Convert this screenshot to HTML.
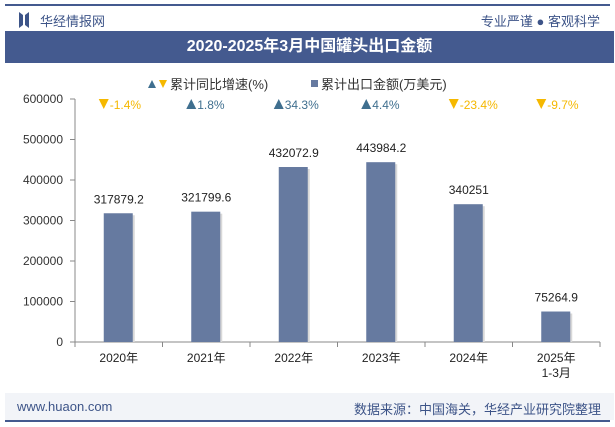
<!DOCTYPE html>
<html><head><meta charset="utf-8"><style>
body{margin:0;width:615px;height:427px;background:#fff;font-family:"Liberation Sans","Noto Sans CJK SC",sans-serif;overflow:hidden;position:relative}
.abs{position:absolute}
</style></head><body>
<div class="abs" style="left:5px;top:4px;width:605px;height:2px;background:#445a8f"></div>
<svg class="abs" style="left:19px;top:12px" width="10" height="16"><path d="M0 0L4 3L4 13L0 16Z M10 0L6 3L6 13L10 16Z" fill="#3d5488"/></svg>
<div class="abs" style="left:40px;top:11px;font-size:13px;color:#3d5488">华经情报网</div>
<div class="abs" style="right:15px;top:11px;font-size:13px;color:#3d5488">专业严谨 ● 客观科学</div>
<div class="abs" style="left:5px;top:31px;width:609px;height:32px;background:#445a8f;color:#fff;font-weight:bold;font-size:16px;text-align:center;line-height:32px">2020-2025年3月中国罐头出口金额</div>
<svg class="abs" style="left:0;top:0" width="615" height="427" id="chart"></svg>
<div class="abs" style="left:5px;top:393px;width:609px;height:27px;background:#f2f4f8"></div>
<div class="abs" style="left:17px;top:399px;font-size:13px;color:#3d5488">www.huaon.com</div>
<div class="abs" style="right:14px;top:399px;font-size:13px;color:#3d5488">数据来源：中国海关，华经产业研究院整理</div>
<div class="abs" style="left:5px;top:420px;width:605px;height:2px;background:#445a8f"></div>
<script>
const categories=["2020年","2021年","2022年","2023年","2024年","2025年|1-3月"];
const values=[317879.2,321799.6,432072.9,443984.2,340251,75264.9];
const valueLabels=["317879.2","321799.6","432072.9","443984.2","340251","75264.9"];
const growth=[-1.4,1.8,34.3,4.4,-23.4,-9.7];
const yTicks=[0,100000,200000,300000,400000,500000,600000];
const svg=document.getElementById('chart');const NS="http://www.w3.org/2000/svg";
const x0=75,x1=600,y0=342,y1=99,yMax=600000;
const bw=(x1-x0)/categories.length;
const ys=v=>y0-(v/yMax)*(y0-y1);
const xc=i=>x0+bw*(i+0.5);
function el(t,a,txt){const e=document.createElementNS(NS,t);for(const k in a)e.setAttribute(k,a[k]);if(txt!=null)e.textContent=txt;svg.appendChild(e);return e;}
let e;
e=el('line',{x1:x0,y1:y1,x2:x0,y2:y0,stroke:'#888'});
e=el('line',{x1:x0,y1:y0,x2:x1,y2:y0,stroke:'#888'});
yTicks.forEach(v=>{const y=ys(v);
 el('line',{x1:x0-5,y1:y,x2:x0,y2:y,stroke:'#888'});
 e=el('text',{x:x0-12,y:y+4,'text-anchor':'end','font-size':12,fill:'#333'},String(v));});
for(let i=0;i<=categories.length;i++)el('line',{x1:x0+bw*i,y1:y0,x2:x0+bw*i,y2:y0+5,stroke:'#888'});
categories.forEach((c,i)=>{
 const cx=xc(i),y=ys(values[i]);
 el('rect',{x:cx-13,y:y+2,width:29,height:y0-y-2,fill:'#d8d8d8'});
 e=el('rect',{x:cx-15,y:y,width:29,height:y0-y,fill:'#667aa0'});
 e=el('text',{x:cx,y:y-10,'text-anchor':'middle','font-size':12,fill:'#222'},valueLabels[i]);
 c.split('|').forEach((p,j)=>{e=el('text',{x:cx,y:362+j*15,'text-anchor':'middle','font-size':12,fill:'#222'},p);});
 const g=growth[i],up=g>=0,col=up?'#3f6f8f':'#f5b800',gx=cx-20,gy=104;
 e=el('path',{d:up?`M${gx} ${gy+5}L${gx+5} ${gy-5}L${gx+10} ${gy+5}Z`:`M${gx} ${gy-5}L${gx+10} ${gy-5}L${gx+5} ${gy+5}Z`,fill:col});
 e=el('text',{x:gx+11,y:gy+5,'font-size':12,fill:col},g+'%');
});
el('path',{d:'M148 88L152 80L156 88Z',fill:'#3f6f8f'});
el('path',{d:'M159 80L167 80L163 88Z',fill:'#f5b800'});
e=el('text',{x:170,y:89,'font-size':13,fill:'#333'},'累计同比增速(%)');
el('rect',{x:311,y:80,width:7,height:7,fill:'#667aa0'});
e=el('text',{x:321,y:89,'font-size':13,fill:'#333'},'累计出口金额(万美元)');
</script>
</body></html>
